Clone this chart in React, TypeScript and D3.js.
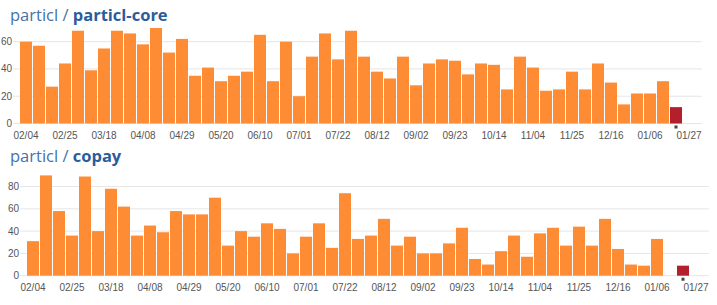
import React from "react";
import * as d3 from "d3";

const weeks = [
  "02/04", "02/11", "02/18", "02/25", "03/04", "03/11", "03/18", "03/25",
  "04/01", "04/08", "04/15", "04/22", "04/29", "05/06", "05/13", "05/20",
  "05/27", "06/03", "06/10", "06/17", "06/24", "07/01", "07/08", "07/15",
  "07/22", "07/29", "08/05", "08/12", "08/19", "08/26", "09/02", "09/09",
  "09/16", "09/23", "09/30", "10/07", "10/14", "10/21", "10/28", "11/04",
  "11/11", "11/18", "11/25", "12/02", "12/09", "12/16", "12/23", "12/30",
  "01/06", "01/13", "01/20", "01/27",
];

const tickLabels = [
  "02/04", "02/25", "03/18", "04/08", "04/29", "05/20", "06/10", "07/01",
  "07/22", "08/12", "09/02", "09/23", "10/14", "11/04", "11/25", "12/16",
  "01/06", "01/27",
];

const currentWeek = "01/20";

const coreValues = [
  60, 57, 27, 44, 68, 39, 55, 68, 66, 58, 70, 52, 62, 35, 41, 31, 35,
  38, 65, 31, 60, 20, 49, 66, 47, 68, 49, 38, 33, 49, 28, 44, 47, 46, 36,
  44, 43, 25, 49, 41, 24, 25, 38, 25, 44, 30, 14, 22, 22, 31, 12,
];
const coreTicks = [0, 20, 40, 60];

const copayValues = [
  31, 90, 58, 36, 89, 40, 78, 62, 36, 45, 39, 58, 55, 55, 70, 27, 40,
  35, 47, 42, 20, 35, 47, 25, 74, 33, 36, 51, 27, 35, 20, 20, 29, 43, 15,
  10, 22, 36, 17, 38, 43, 27, 44, 27, 51, 24, 10, 9, 33, 0, 9,
];
const copayTicks = [0, 20, 40, 60, 80];

const ORANGE = "#fd8c35";
const RED = "#b3202b";
const AXIS_FONT = "'Liberation Sans', Arial, sans-serif";

type ChartProps = {
  owner: string;
  repo: string;
  values: number[];
  ticks: number[];
  titleY: number;
  x0: number;
  yTop: number;
  yBase: number;
};

function Chart({ owner, repo, values, ticks, titleY, x0, yTop, yBase }: ChartProps) {
  const step = 13;
  const x = d3
    .scaleBand<string>()
    .domain(weeks)
    .range([x0, x0 + weeks.length * step - 1])
    .paddingInner(1 / step)
    .paddingOuter(0);
  const y = d3
    .scaleLinear()
    .domain([0, d3.max(values) as number])
    .range([yBase, yTop]);
  const gridEnd = x0 + 682;
  const bw = x.bandwidth();
  return (
    <g>
      <text x={10} y={titleY} fontFamily="'Open Sans', sans-serif" fontSize={16.5}>
        <tspan fill="#4672aa">{owner} / </tspan>
        <tspan fill="#2b5c9b" fontWeight="bold">{repo}</tspan>
      </text>
      {ticks.map((t) => (
        <g key={t}>
          <line x1={x0 - 7} x2={gridEnd} y1={y(t)} y2={y(t)} stroke="#e6e6e6" strokeWidth={1} />
          <text
            x={x0 - 8}
            y={y(t)}
            dy="0.35em"
            textAnchor="end"
            fontFamily={AXIS_FONT}
            fontSize={10}
            fill="#555"
          >
            {t}
          </text>
        </g>
      ))}
      {values.map((v, i) =>
        v > 0 ? (
          <rect
            key={weeks[i]}
            x={x(weeks[i])}
            y={y(v)}
            width={bw}
            height={yBase - y(v)}
            fill={weeks[i] === currentWeek ? RED : ORANGE}
          />
        ) : null
      )}
      <rect
        x={(x(currentWeek) as number) + bw / 2 - 1.5}
        y={yBase + 2}
        width={3}
        height={3}
        fill="#444"
      />
      {tickLabels.map((l) => (
        <text
          key={l}
          x={(x(l) as number) + bw / 2}
          y={yBase + 15.5}
          textAnchor="middle"
          fontFamily={AXIS_FONT}
          fontSize={10}
          fill="#555"
        >
          {l}
        </text>
      ))}
    </g>
  );
}

export default function App() {
  return (
    <svg
      width={717}
      height={305}
      style={{ position: "absolute", left: 0, top: 0, background: "#fff" }}
    >
      <Chart
        owner="particl"
        repo="particl-core"
        values={coreValues}
        ticks={coreTicks}
        titleY={20.5}
        x0={20}
        yTop={28}
        yBase={123.5}
      />
      <Chart
        owner="particl"
        repo="copay"
        values={copayValues}
        ticks={copayTicks}
        titleY={162}
        x0={27}
        yTop={175.4}
        yBase={275.7}
      />
    </svg>
  );
}
